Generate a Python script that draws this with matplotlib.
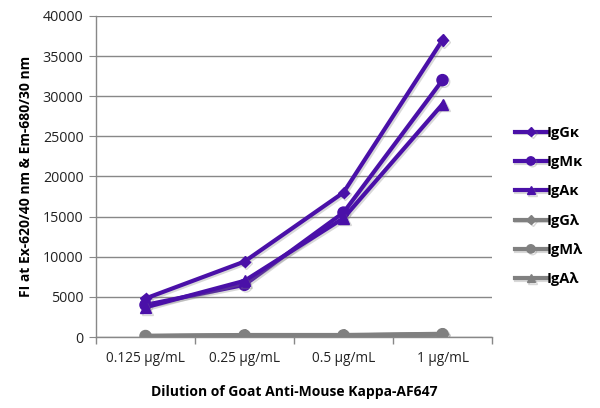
import matplotlib
matplotlib.use("Agg")
import matplotlib.pyplot as plt
import matplotlib.patheffects as pe
import numpy as np

plt.rcParams['font.family'] = ['Open Sans', 'DejaVu Sans']

categories = ["0.125 µg/mL", "0.25 µg/mL", "0.5 µg/mL", "1 µg/mL"]
series_names = ["IgGκ", "IgMκ", "IgAκ", "IgGλ", "IgMλ", "IgAλ"]
igg_k = [4800, 9400, 18000, 37000]
igm_k = [4000, 6500, 15500, 32000]
iga_k = [3700, 7000, 14800, 29000]
igg_l = [150, 250, 250, 400]
igm_l = [120, 200, 200, 350]
iga_l = [100, 180, 180, 300]
values = [igg_k, igm_k, iga_k, igg_l, igm_l, iga_l]

purple = '#4a10a8'
gray = '#808080'
colors = [purple, purple, purple, gray, gray, gray]
markers = ['D', 'o', '^', 'D', 'o', '^']
msizes = [6, 8, 8, 6, 8, 8]

fig = plt.figure(figsize=(6, 4.08), dpi=100)
ax = fig.add_axes([0.16, 0.174, 0.66, 0.787])

x = np.arange(len(categories))
shadow = [pe.SimpleLineShadow(offset=(1.2, -1.2), shadow_color='gray', alpha=0.3), pe.Normal()]
handles = []
for name, vals, c, m, ms in zip(series_names, values, colors, markers, msizes):
    h, = ax.plot(x, vals, color=c, lw=3, marker=m, markersize=ms, label=name,
                 path_effects=shadow, zorder=3)
    handles.append(h)

ax.set_xlim(-0.5, len(categories) - 0.5)
ax.set_ylim(0, 40000)
ax.set_yticks(np.arange(0, 40001, 5000))
ax.set_xticks(x)
ax.set_xticklabels(categories, fontsize=9.8, color='#222222')
ax.tick_params(axis='x', length=0, pad=10)
ax.set_xticks(np.arange(-0.5, len(categories)), minor=True)
ax.tick_params(axis='x', which='minor', length=5, color='#888888', width=1)
ax.tick_params(axis='y', length=5, color='#888888', labelsize=10.3, labelcolor='#222222', pad=4)
ax.grid(axis='y', color='#888888', lw=1)
ax.set_axisbelow(True)
for s in ['top', 'right']:
    ax.spines[s].set_visible(False)
for s in ['left', 'bottom']:
    ax.spines[s].set_color('#888888')
    ax.spines[s].set_linewidth(1)

ax.set_ylabel("FI at Ex-620/40 nm & Em-680/30 nm", fontsize=10, fontweight='bold', labelpad=7)
ax.set_xlabel("Dilution of Goat Anti-Mouse Kappa-AF647", fontsize=10, fontweight='bold', labelpad=14)

leg = fig.legend(handles=handles, loc='center left', bbox_to_anchor=(0.858, 0.495),
                 frameon=False, fontsize=10.5, handlelength=2.2, handletextpad=0.0,
                 labelspacing=1.05, markerscale=0.75, borderpad=0, borderaxespad=0)
for t in leg.get_texts():
    t.set_fontweight('bold')

fig.savefig('out.png', dpi=100)
